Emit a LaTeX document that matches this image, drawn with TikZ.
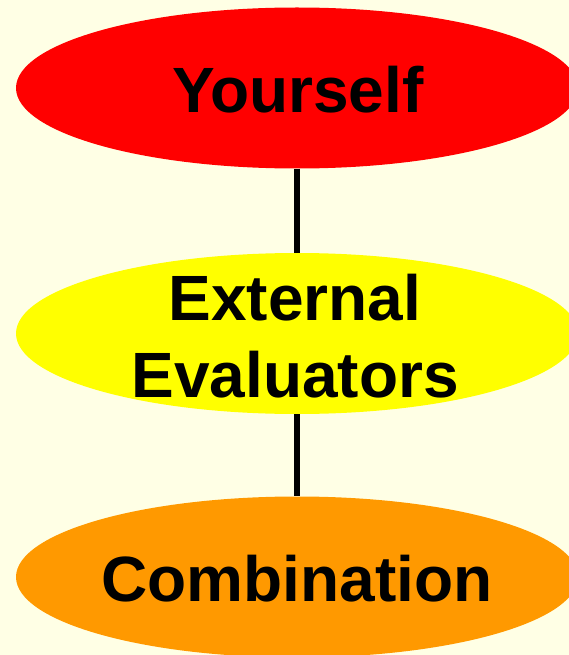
\documentclass[tikz,border=0pt]{standalone}
\usepackage{fontspec}
\setmainfont{Liberation Sans}
\usetikzlibrary{shapes.geometric}
\definecolor{bg}{HTML}{FFFFE5}
\definecolor{red1}{HTML}{FF0000}
\definecolor{yel1}{HTML}{FFFF00}
\definecolor{ora1}{HTML}{FF9900}
\tikzset{
  oval/.style={ellipse, minimum width=562pt, minimum height=161pt, inner sep=0pt},
  ovaltext/.style={font=\fontsize{64}{77}\selectfont\bfseries, align=center, text=black, inner sep=0pt},
  link/.style={line width=6.5pt, draw=black}
}
\begin{document}
\begin{tikzpicture}[x=1pt,y=-1pt]
\fill[bg] (0,0) rectangle (569,655);
\useasboundingbox (0,0) rectangle (569,655);
\begin{scope}
\clip (0,0) rectangle (569,655);
\node[oval, fill=red1] (you) at (297,88) {};
\node[oval, fill=yel1] (ext) at (297,333.5) {};
\node[oval, fill=ora1] (comb) at (297,577) {};
\node[ovaltext] (youtext) at (298,90) {Yourself};
\node[ovaltext] (exttext) at (295,336) {External\\Evaluators};
\node[ovaltext] (combtext) at (297,579) {Combination};
\draw[link] (you.south) -- (ext.north);
\draw[link] (ext.south) -- (comb.north);
\end{scope}
\end{tikzpicture}
\end{document}
